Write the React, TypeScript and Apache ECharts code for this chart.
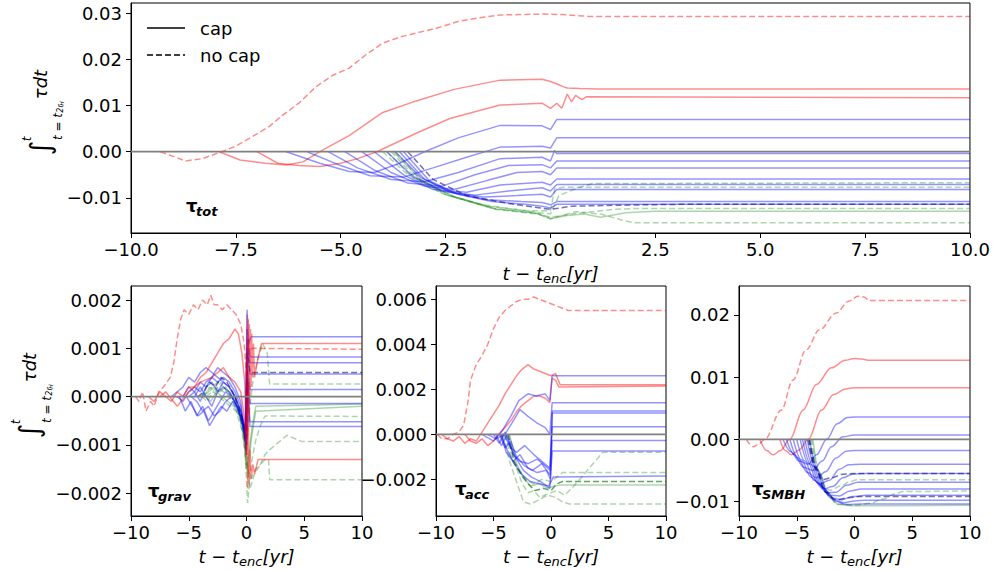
import React, { useEffect, useRef } from "react";
import * as echarts from "echarts";

type Line = number[][];

// ---------- tick values ----------
const topYTicks = [-0.01, 0, 0.01, 0.02, 0.03];
const gravYTicks = [-0.002, -0.001, 0, 0.001, 0.002];
const accYTicks = [-0.002, 0, 0.002, 0.004, 0.006];
const smbhYTicks = [-0.01, 0, 0.01, 0.02];
const zeroLine: Line = [[-10, 0], [10, 0]];
const legendLabels = ["cap", "no cap"];

// ---------- top panel: tau_tot ----------
const totRedNoCap: Line[] = [
  [[-9.3, 0], [-8.7, -0.002], [-8.3, -0.0015], [-7.9, -0.0002], [-7.5, 0.0012], [-7.1, 0.0033], [-6.7, 0.0055], [-6.4, 0.0078], [-6.0, 0.0105], [-5.6, 0.014], [-5.2, 0.0165], [-4.8, 0.0181], [-4.4, 0.021], [-4.0, 0.0235], [-3.6, 0.0248], [-3.2, 0.0257], [-2.7, 0.0268], [-2.2, 0.0282], [-1.7, 0.029], [-1.2, 0.0296], [-0.7, 0.0297], [-0.2, 0.0298], [0.3, 0.0297], [0.9, 0.0293], [10, 0.0293]],
];
const totRedCap: Line[] = [
  [[-7.9, 0], [-7.4, -0.0018], [-6.8, -0.0025], [-6.3, -0.0029], [-5.9, -0.0022], [-5.5, 0], [-4.8, 0.0035], [-4.0, 0.0085], [-3.2, 0.011], [-2.3, 0.0135], [-1.2, 0.0155], [-0.2, 0.0157], [0, 0.0152], [0.2, 0.0145], [0.3, 0.0141], [0.4, 0.0138], [0.7, 0.0137], [1.1, 0.0136], [10, 0.0136]],
  [[-7.0, 0], [-6.5, -0.0025], [-6.0, -0.003], [-5.5, -0.0032], [-5.0, -0.0025], [-4.6, -0.0015], [-4.14, 0], [-3.2, 0.004], [-2.4, 0.0072], [-1.2, 0.0101], [-0.2, 0.0105], [0, 0.0094], [0.15, 0.0105], [0.27, 0.0094], [0.4, 0.0125], [0.5, 0.0108], [0.6, 0.0122], [0.75, 0.0113], [0.85, 0.0119], [10, 0.0117]],
];
const totBlueCap: Line[] = [
  [[-6.3, 0], [-5.5, -0.0025], [-4.8, -0.0043], [-4.2, -0.0045], [-3.6, -0.0025], [-3.0, 0], [-2.2, 0.003], [-1.2, 0.0057], [-0.2, 0.0056], [0, 0.0048], [0.15, 0.007], [10, 0.007]],
  [[-5.8, 0], [-5.0, -0.003], [-4.3, -0.0052], [-3.5, -0.0055], [-2.8, -0.0035], [-2.0, -0.0012], [-1.2, 0.001], [-0.2, 0.0012], [0, 0.0008], [0.15, 0.003], [10, 0.003]],
  [[-5.3, 0], [-4.6, -0.0035], [-3.8, -0.006], [-3.0, -0.0065], [-2.2, -0.0045], [-1.2, -0.0015], [-0.2, -0.0012], [0, -0.002], [0.1, 0.0003], [0.15, -0.0004], [10, -0.0004]],
  [[-4.9, 0], [-4.2, -0.004], [-3.4, -0.0068], [-2.6, -0.0075], [-1.8, -0.005], [-1.0, -0.003], [-0.2, -0.0028], [0, -0.0035], [0.15, -0.002], [10, -0.002]],
  [[-4.5, 0], [-3.8, -0.0045], [-3.0, -0.0075], [-2.3, -0.0082], [-1.5, -0.0062], [-0.8, -0.0045], [-0.2, -0.0043], [0, -0.005], [0.15, -0.0035], [10, -0.0035]],
  [[-4.2, 0], [-3.5, -0.005], [-2.8, -0.0082], [-2.0, -0.0088], [-1.2, -0.0072], [-0.2, -0.0066], [0, -0.0072], [0.15, -0.0059], [10, -0.0059]],
  [[-3.9, 0], [-3.3, -0.0052], [-2.6, -0.0085], [-1.8, -0.0094], [-1.0, -0.0085], [-0.2, -0.0078], [0, -0.0085], [0.15, -0.0071], [10, -0.0071]],
  [[-3.7, 0], [-3.1, -0.0055], [-2.4, -0.0088], [-1.6, -0.0098], [-0.8, -0.0095], [-0.2, -0.0092], [0, -0.0098], [0.15, -0.0082], [10, -0.0082]],
  [[-3.6, 0], [-3.0, -0.006], [-2.3, -0.009], [-1.5, -0.0104], [-0.7, -0.0108], [-0.2, -0.011], [0, -0.0115], [0.15, -0.0108], [10, -0.0108]],
  [[-3.5, 0], [-2.9, -0.0062], [-2.2, -0.0092], [-1.4, -0.0108], [-0.6, -0.0114], [-0.2, -0.0118], [0, -0.0122], [0.15, -0.0114], [10, -0.0114]],
];
const totBlueNoCap: Line[] = [
  [[-3.4, 0], [-2.8, -0.006], [-2.0, -0.0095], [-1.0, -0.0112], [0, -0.0125], [0.5, -0.0118], [1.5, -0.0116], [3, -0.0114], [10, -0.0114]],
];
const totGreenNoCap: Line[] = [
  [[-4.0, 0], [-3.4, -0.005], [-2.6, -0.009], [-1.6, -0.0115], [-0.6, -0.0128], [0, -0.0135], [0.2, -0.0095], [0.6, -0.008], [1.0, -0.0069], [10, -0.0067]],
  [[-3.9, 0], [-3.3, -0.0055], [-2.5, -0.0093], [-1.5, -0.0118], [-0.5, -0.0128], [0, -0.0128], [0.1, -0.008], [0.3, -0.0077], [10, -0.0077]],
  [[-3.8, 0], [-3.2, -0.0058], [-2.4, -0.0096], [-1.4, -0.0122], [-0.4, -0.0132], [0, -0.0142], [0.5, -0.0135], [1.0, -0.013], [1.5, -0.0125], [2.0, -0.0123], [10, -0.0123]],
  [[-3.7, 0], [-3.1, -0.006], [-2.3, -0.0098], [-1.3, -0.0125], [-0.3, -0.0135], [0, -0.0145], [0.6, -0.013], [1.2, -0.0135], [1.7, -0.0148], [2.0, -0.0154], [10, -0.0154]],
];
const totGreenCap: Line[] = [
  [[-3.75, 0], [-3.1, -0.006], [-2.3, -0.0097], [-1.3, -0.0124], [-0.3, -0.0134], [0, -0.0145], [0.4, -0.0138], [0.8, -0.0135], [1.2, -0.0142], [1.8, -0.0132], [2.5, -0.0129], [10, -0.0129]],
];

// ---------- bottom left: tau_grav ----------
const gravRedNoCap: Line[] = [
  [[-9.6, 0], [-9.3, -0.0001], [-9.0, 0.0001], [-8.7, -0.0003], [-8.3, -0.0001], [-8.0, -0.0002], [-7.6, 0.0001], [-7.2, 0.0002], [-6.9, 0.0003], [-6.6, 0.0004], [-6.3, 0.0007], [-6.0, 0.0012], [-5.7, 0.0016], [-5.4, 0.0018], [-5.0, 0.0017], [-4.6, 0.0019], [-4.2, 0.0018], [-3.8, 0.002], [-3.4, 0.0019], [-3.1, 0.0021], [-2.8, 0.0019], [-2.5, 0.0019], [-2.1, 0.0018], [-1.7, 0.0019], [-1.3, 0.0018], [-0.9, 0.0017], [-0.5, 0.0015], [-0.2, 0.0011], [0, 0.0004], [0.15, 0.0012], [0.3, 0.0009], [0.5, 0.001], [10, 0.00098]],
];
const gravRedCap: Line[] = [
  [[-8.5, 0], [-8.0, -0.0001], [-7.5, 0.0001], [-7.0, 0], [-6.5, -0.0001], [-6.0, 0.0001], [-5.5, 0], [-5.0, 0.0002], [-4.5, 0.0002], [-4.0, 0.0004], [-3.5, 0.0005], [-3.0, 0.0007], [-2.5, 0.0009], [-2.0, 0.0011], [-1.5, 0.0012], [-1.0, 0.0014], [-0.7, 0.0013], [-0.4, 0.0009], [-0.15, 0.0003], [0, -0.0012], [0.05, 0.0017], [0.1, -0.0008], [0.15, 0.0016], [0.2, -0.0004], [0.25, 0.0015], [0.3, 0], [0.35, 0.0014], [0.4, 0.0002], [0.45, 0.0013], [0.5, 0.0004], [0.6, 0.0011], [0.7, 0.0004], [1.0, 0.0008], [1.3, 0.0011], [10, 0.0011]],
  [[-7.5, 0], [-7.0, 0.0001], [-6.0, -0.0002], [-5.0, 0.0001], [-4.0, 0.0003], [-3.0, 0.0004], [-2.0, 0.0006], [-1.5, 0.0004], [-1.0, 0.0003], [-0.5, 0.0001], [-0.2, -0.0004], [0, -0.0012], [0.05, 0.0006], [0.1, -0.0019], [0.15, 0.0003], [0.2, -0.0018], [0.3, -0.0011], [0.4, -0.0017], [0.55, -0.0014], [0.7, -0.0016], [1.0, -0.0013], [10, -0.0013]],
];
const gravBlueCap: Line[] = [
  [[-6.5, 0], [-6.0, 0.0001], [-5.5, 0.0002], [-5.0, 0.0004], [-4.5, 0.0003], [-4.0, 0.0005], [-3.5, 0.0006], [-3.0, 0.0005], [-2.5, 0.0004], [-2.0, 0.0003], [-1.5, 0.0002], [-1.0, 0], [-0.5, -0.0003], [-0.1, -0.0007], [0.05, 0.0018], [0.2, 0.0011], [0.4, 0.00124], [10, 0.00124]],
  [[-6.0, 0], [-5.5, -0.0001], [-5.0, 0.0001], [-4.5, 0.0002], [-4.0, 0.0001], [-3.5, 0.0003], [-3.0, 0.0004], [-2.5, 0.0003], [-2.0, 0.0004], [-1.5, 0.0003], [-1.0, 0.0001], [-0.5, -0.0002], [-0.1, -0.0009], [0.05, 0.0014], [0.2, 0.0009], [0.4, 0.00082], [10, 0.00082]],
  [[-5.8, 0], [-5.3, -0.0003], [-4.8, -0.0001], [-4.3, -0.0004], [-3.8, -0.0002], [-3.3, -0.0005], [-2.8, -0.0003], [-2.3, -0.0001], [-1.8, 0.0001], [-1.3, 0], [-0.8, -0.0002], [-0.3, -0.0006], [0, -0.0011], [0.1, 0.0012], [0.3, 0.0007], [10, 0.0007]],
  [[-5.5, 0], [-5.0, 0.0002], [-4.5, 0.0001], [-4.0, 0.0003], [-3.5, 0.0002], [-3.0, 0.0004], [-2.5, 0.0006], [-2.0, 0.0005], [-1.5, 0.0004], [-1.0, 0.0002], [-0.5, -0.0001], [-0.1, -0.0008], [0.05, 0.001], [0.3, 0.00047], [10, 0.00047]],
  [[-5.2, 0], [-4.7, -0.0002], [-4.2, -0.0004], [-3.7, -0.0003], [-3.2, -0.0006], [-2.7, -0.0004], [-2.2, -0.0002], [-1.7, -0.0003], [-1.2, -0.0001], [-0.7, -0.0003], [-0.2, -0.0007], [0, -0.0012], [0.1, 0.0006], [0.3, 0.00015], [10, 0.00015]],
  [[-5.0, 0], [-4.5, 0.0001], [-4.0, -0.0001], [-3.5, 0.0002], [-3.0, 0.0003], [-2.5, 0.0001], [-2.0, 0.0002], [-1.5, 0.0001], [-1.0, -0.0001], [-0.5, -0.0004], [-0.1, -0.0009], [0.05, 0.0005], [0.3, -0.00014], [10, -0.00014]],
  [[-4.8, 0], [-4.3, -0.0001], [-3.8, -0.0003], [-3.3, -0.0002], [-2.8, -0.0004], [-2.3, -0.0003], [-1.8, -0.0001], [-1.3, 0], [-0.8, -0.0002], [-0.3, -0.0005], [0, -0.001], [0.1, 0.0003], [0.3, -0.00052], [10, -0.00052]],
  [[-4.5, 0], [-4.0, 0.0002], [-3.5, 0], [-3.0, -0.0002], [-2.5, 0.0001], [-2.0, 0.0003], [-1.5, 0.0002], [-1.0, 0], [-0.5, -0.0003], [-0.1, -0.0008], [0.05, 0.0002], [0.3, -0.00062], [10, -0.00062]],
];
const gravBlueNoCap: Line[] = [
  [[-4.2, 0], [-3.7, 0.0001], [-3.2, 0.0003], [-2.7, 0.0002], [-2.2, 0.0004], [-1.7, 0.0003], [-1.2, 0.0001], [-0.7, -0.0002], [-0.2, -0.0006], [0, -0.001], [0.1, 0.0009], [0.3, 0.0005], [10, 0.0005]],
];
const gravGreenNoCap: Line[] = [
  [[-4.0, 0], [-3.5, 0.0001], [-3.0, 0.0002], [-2.5, 0.0003], [-2.0, 0.0002], [-1.5, 0.0001], [-1.0, 0], [-0.5, -0.0003], [0, -0.0009], [0.3, -0.0002], [0.6, 0.0004], [1.0, 0.0008], [1.4, 0.0011], [1.8, 0.0009], [2.0, 0.00026], [10, 0.00026]],
  [[-3.7, 0], [-3.2, 0.0002], [-2.7, 0.0001], [-2.2, 0.0003], [-1.7, 0.0001], [-1.2, 0], [-0.7, -0.0003], [-0.2, -0.0008], [0.1, -0.0022], [0.4, -0.0014], [0.8, -0.0009], [1.2, -0.0006], [1.6, -0.0004], [10, -0.00041]],
  [[-3.9, 0], [-3.4, -0.0001], [-2.9, 0.0001], [-2.4, 0], [-1.9, -0.0001], [-1.4, -0.0002], [-0.9, -0.0003], [-0.4, -0.0007], [0, -0.0014], [0.4, -0.0017], [0.8, -0.0015], [1.2, -0.0014], [1.6, -0.0012], [2.0, -0.0011], [2.5, -0.001], [3.0, -0.0009], [3.5, -0.0008], [4.0, -0.00085], [4.5, -0.0009], [4.8, -0.00093], [10, -0.00093]],
  [[-3.5, 0], [-3.0, 0.0001], [-2.5, 0.0002], [-2.0, 0.0001], [-1.5, 0], [-1.0, -0.0002], [-0.5, -0.0005], [0, -0.0012], [0.3, -0.0019], [0.7, -0.0016], [1.2, -0.0014], [1.6, -0.0013], [1.9, -0.0013], [2.0, -0.00172], [10, -0.00172]],
];
const gravGreenCap: Line[] = [
  [[-3.8, 0], [-3.3, 0.0001], [-2.8, 0.0002], [-2.3, 0.0001], [-1.8, 0.0002], [-1.3, 0], [-0.8, -0.0002], [-0.3, -0.0006], [0, -0.0015], [0.2, -0.0012], [0.5, -0.0006], [0.8, -0.0002], [10, -0.00015]],
  [[-3.6, 0], [-3.1, -0.0001], [-2.6, 0.0001], [-2.1, 0], [-1.6, -0.0001], [-1.1, -0.0002], [-0.6, -0.0004], [-0.1, -0.001], [0.1, -0.0017], [0.4, -0.0009], [0.8, -0.0003], [10, -0.0002]],
];

// ---------- bottom middle: tau_acc ----------
const accRedNoCap: Line[] = [
  [[-9.9, 0], [-9.5, -0.0002], [-9.0, -0.0002], [-8.5, 0], [-8.0, 0.0001], [-7.6, 0.0004], [-7.2, 0.0015], [-7.0, 0.0024], [-6.5, 0.0031], [-6.0, 0.0035], [-5.5, 0.004], [-5.0, 0.0047], [-4.5, 0.0052], [-4.0, 0.0055], [-3.5, 0.0057], [-3.0, 0.0059], [-2.5, 0.006], [-2.0, 0.006], [-1.5, 0.0061], [-1.0, 0.006], [-0.5, 0.0059], [0, 0.0058], [0.5, 0.0057], [1.0, 0.0056], [1.5, 0.0055], [10, 0.0055]],
];
const accRedCap: Line[] = [
  [[-9.5, 0], [-9.0, -0.0002], [-8.5, -0.0003], [-8.0, -0.0001], [-7.5, -0.0004], [-7.0, -0.0002], [-6.5, -0.0003], [-6.0, 0.0001], [-5.5, 0.0005], [-5.0, 0.0009], [-4.5, 0.0013], [-4.0, 0.0018], [-3.5, 0.0022], [-3.0, 0.0026], [-2.5, 0.0029], [-2.0, 0.0031], [-1.5, 0.0029], [-1.0, 0.0028], [-0.5, 0.0027], [0, 0.0026], [0.4, 0.0027], [0.8, 0.0022], [1.2, 0.0022], [10, 0.0022]],
  [[-7.5, 0], [-7.0, -0.0003], [-6.5, -0.0004], [-6.0, -0.0002], [-5.5, -0.0005], [-5.0, -0.0003], [-4.5, 0], [-4.0, 0.0003], [-3.5, 0.0006], [-3.0, 0.001], [-2.5, 0.0013], [-2.0, 0.0015], [-1.5, 0.0017], [-1.0, 0.0017], [-0.5, 0.0016], [-0.1, 0.0014], [0.1, 0.0025], [0.4, 0.0024], [0.7, 0.0021], [10, 0.00215]],
];
const accBlueCap: Line[] = [
  [[-6.0, 0], [-5.0, -0.0003], [-4.2, 0.0002], [-3.5, 0.0008], [-2.8, 0.0015], [-2.0, 0.0018], [-1.3, 0.0017], [-0.5, 0.0018], [-0.1, 0.0015], [0.1, 0.0026], [10, 0.0026]],
  [[-5.5, 0], [-4.8, -0.0002], [-4.0, 0], [-3.4, 0.0005], [-2.7, 0.0011], [-2.0, 0.0008], [-1.2, 0.0005], [-0.5, 0.0003], [-0.1, 0], [0.1, 0.0014], [10, 0.0014]],
  [[-5.0, 0], [-4.5, -0.0004], [-4.0, 0.0001], [-3.5, -0.0006], [-3.0, -0.0008], [-2.3, -0.0005], [-1.5, -0.0009], [-0.8, -0.0012], [-0.1, -0.0015], [0.05, 0], [0.12, 0.00104], [10, 0.00104]],
  [[-4.8, 0], [-4.3, -0.0005], [-3.8, 0], [-3.3, -0.0009], [-2.7, -0.0012], [-2.0, -0.0013], [-1.2, -0.0011], [-0.5, -0.0014], [-0.05, -0.0016], [0.1, 0.00095], [10, 0.00095]],
  [[-4.5, 0], [-4.0, -0.0006], [-3.5, -0.0003], [-3.0, -0.001], [-2.3, -0.0014], [-1.6, -0.0016], [-0.8, -0.0013], [-0.1, -0.0018], [0.1, 0.00034], [10, 0.00034]],
  [[-4.3, 0], [-3.9, -0.0008], [-3.3, -0.0012], [-2.7, -0.0009], [-2.0, -0.0015], [-1.2, -0.0017], [-0.4, -0.0016], [-0.05, -0.002], [0.1, -0.00028], [10, -0.00028]],
  [[-4.1, 0], [-3.6, -0.0005], [-3.0, -0.0011], [-2.4, -0.0016], [-1.7, -0.0019], [-0.9, -0.0021], [-0.1, -0.0024], [0.1, -0.00074], [10, -0.00074]],
  [[-4.4, 0], [-3.8, -0.0007], [-3.2, -0.0013], [-2.5, -0.0018], [-1.8, -0.0021], [-1.0, -0.0022], [-0.2, -0.0023], [0.2, -0.0019], [10, -0.00185]],
];
const accGreenNoCap: Line[] = [
  [[-4.0, 0], [-3.5, -0.001], [-3.0, -0.0015], [-2.5, -0.0022], [-2.0, -0.0026], [-1.5, -0.0025], [-1.0, -0.0028], [-0.5, -0.0027], [0, -0.0026], [0.5, -0.0025], [1.2, -0.0027], [1.8, -0.0024], [2.5, -0.002], [3.0, -0.0017], [3.5, -0.0014], [4.0, -0.0011], [4.5, -0.0008], [10, -0.0008]],
  [[-3.8, 0], [-3.3, -0.0012], [-2.8, -0.0016], [-2.2, -0.002], [-1.5, -0.0022], [-0.8, -0.002], [0, -0.0021], [0.5, -0.0019], [1.0, -0.0017], [10, -0.0017]],
  [[-4.2, 0], [-3.6, -0.0012], [-3.0, -0.0021], [-2.4, -0.003], [-1.8, -0.0031], [-1.0, -0.0029], [-0.3, -0.0027], [0.4, -0.0028], [1.0, -0.003], [1.6, -0.0031], [10, -0.0031]],
];
const accGreenDarkNoCap: Line[] = [
  [[-3.7, 0], [-3.2, -0.0012], [-2.6, -0.0018], [-2.0, -0.0022], [-1.4, -0.0025], [-0.7, -0.0024], [0, -0.0025], [0.5, -0.0022], [1.0, -0.0021], [10, -0.0021]],
];
const accGreenCap: Line[] = [
  [[-3.6, 0], [-3.0, -0.0013], [-2.4, -0.0019], [-1.8, -0.0023], [-1.0, -0.0022], [-0.3, -0.0024], [0.3, -0.0023], [0.8, -0.00225], [10, -0.00225]],
];

// ---------- bottom right: tau_SMBH ----------
const smbhRedNoCap: Line[] = [
  [[-9.36, 0], [-8.79, -0.0012], [-8.3, -0.0008], [-7.77, 0], [-6.33, 0.0047], [-5.34, 0.0095], [-4.18, 0.0144], [-3.03, 0.0176], [-1.58, 0.0203], [-0.5, 0.0222], [0.3, 0.023], [0.8, 0.0229], [1.3, 0.0223], [10, 0.0223]],
];
const smbhRedCap: Line[] = [
  [[-8.2, 0], [-7.6, -0.0018], [-7.05, -0.0025], [-6.4, -0.0018], [-5.6, 0], [-4.45, 0.0047], [-3.3, 0.0088], [-2.0, 0.0115], [-0.8, 0.0127], [0, 0.013], [0.6, 0.0129], [1.3, 0.0127], [10, 0.0127]],
  [[-6.47, 0], [-6.0, -0.0018], [-5.46, -0.0025], [-4.8, -0.0017], [-4.0, 0], [-2.86, 0.0047], [-1.8, 0.0072], [-0.8, 0.0081], [0, 0.0083], [10, 0.0083]],
];
const smbhBlueCap: Line[] = [
  [[-6.2, 0], [-5.5, -0.002], [-4.8, -0.0035], [-4.0, -0.004], [-3.3, -0.0025], [-2.4, 0], [-1.5, 0.0025], [-0.6, 0.0035], [0, 0.0036], [10, 0.0036]],
  [[-5.9, 0], [-5.2, -0.0025], [-4.4, -0.0045], [-3.6, -0.005], [-2.8, -0.0035], [-2.0, -0.0012], [-1.0, 0.0004], [0, 0.0007], [10, 0.0007]],
  [[-5.6, 0], [-4.9, -0.003], [-4.1, -0.0053], [-3.3, -0.0062], [-2.5, -0.0052], [-1.6, -0.003], [-0.7, -0.0019], [0, -0.0018], [10, -0.0018]],
  [[-5.3, 0], [-4.6, -0.0033], [-3.8, -0.006], [-3.0, -0.0072], [-2.2, -0.0066], [-1.3, -0.0048], [-0.5, -0.0041], [0.5, -0.004], [10, -0.004]],
  [[-5.0, 0], [-4.3, -0.0035], [-3.5, -0.0066], [-2.7, -0.008], [-1.9, -0.0076], [-1.0, -0.0062], [-0.2, -0.0056], [1, -0.0055], [10, -0.0055]],
  [[-4.7, 0], [-4.0, -0.0038], [-3.2, -0.007], [-2.4, -0.0086], [-1.6, -0.0085], [-0.7, -0.0074], [0.3, -0.0069], [10, -0.0069]],
  [[-4.5, 0], [-3.8, -0.004], [-3.0, -0.0073], [-2.2, -0.009], [-1.3, -0.0091], [-0.4, -0.0083], [0.6, -0.008], [10, -0.008]],
  [[-4.3, 0], [-3.6, -0.0042], [-2.8, -0.0077], [-2.0, -0.0094], [-1.1, -0.0097], [-0.2, -0.0092], [1, -0.009], [10, -0.009]],
  [[-4.1, 0], [-3.4, -0.0045], [-2.6, -0.008], [-1.8, -0.0097], [-0.9, -0.0102], [0, -0.0099], [1, -0.0098], [10, -0.0098]],
  [[-3.9, 0], [-3.2, -0.0048], [-2.4, -0.0084], [-1.6, -0.01], [-0.7, -0.0105], [0.5, -0.0104], [10, -0.0104]],
];
const smbhBlueNoCap: Line[] = [
  [[-4.0, 0], [-3.4, -0.0045], [-2.8, -0.0065], [-2.0, -0.0062], [-1.0, -0.0056], [0, -0.0055], [10, -0.0055]],
  [[-3.9, 0], [-3.3, -0.005], [-2.5, -0.0085], [-1.6, -0.0097], [-0.5, -0.0094], [0.5, -0.0092], [10, -0.0092]],
];
const smbhGreenNoCap: Line[] = [
  [[-3.8, 0], [-3.2, -0.005], [-2.7, -0.0078], [-2.1, -0.0082], [-1.2, -0.0075], [-0.4, -0.0068], [0.2, -0.0065], [10, -0.0065]],
  [[-3.7, 0], [-3.1, -0.0052], [-2.3, -0.009], [-1.5, -0.0104], [0, -0.0106], [1.3, -0.0103], [2.5, -0.0096], [3.5, -0.0088], [4.2, -0.0084], [10, -0.0083]],
];
const smbhGreenCap: Line[] = [
  [[-3.6, 0], [-3.0, -0.0055], [-2.2, -0.0093], [-1.4, -0.0105], [0, -0.0107], [10, -0.0106]],
];

// ---------- styles ----------
const FONT = "DejaVu Sans";
const RED = "rgba(255,0,0,0.45)";
const BLUE = "rgba(0,0,255,0.42)";
const NAVY = "rgba(0,0,120,0.55)";
const GREEN = "rgba(0,128,0,0.32)";
const DGREEN = "rgba(0,100,0,0.6)";
const GRAY = "#808080";
const DASH = [6, 3];

const minus = (s: string) => s.replace("-", "\u2212");

function mkSeries(lines: Line[], idx: number, color: string, dashed: boolean, smooth = false) {
  return lines.map((d) => ({
    type: "line",
    xAxisIndex: idx,
    yAxisIndex: idx,
    data: d,
    symbol: "none",
    showSymbol: false,
    silent: true,
    clip: true,
    smooth: smooth ? 0.35 : false,
    smoothMonotone: smooth ? "x" : undefined,
    lineStyle: { color, width: 1.5, type: dashed ? DASH : "solid" },
    itemStyle: { color },
    z: 2,
  }));
}

function zeroSeries(idx: number) {
  return {
    type: "line",
    xAxisIndex: idx,
    yAxisIndex: idx,
    data: zeroLine,
    symbol: "none",
    silent: true,
    lineStyle: { color: GRAY, width: 1.8 },
    z: 3,
  };
}

const grids = [
  { left: 131, top: 3, width: 839, height: 230 },
  { left: 131, top: 286, width: 231, height: 230 },
  { left: 436, top: 286, width: 230, height: 230 },
  { left: 739, top: 286, width: 231, height: 230 },
];

const xName = "{a|t \u2212 t}{b|enc}{a|[yr]}";
const xNameStyle = {
  rich: {
    a: { fontFamily: FONT, fontStyle: "italic", fontSize: 18, color: "#000", lineHeight: 24 },
    b: { fontFamily: FONT, fontStyle: "italic", fontSize: 13, color: "#000", lineHeight: 13, verticalAlign: "bottom" },
  },
};

function xAxis(idx: number, interval: number, digits: number) {
  return {
    type: "value",
    gridIndex: idx,
    min: -10,
    max: 10,
    interval,
    name: xName,
    nameLocation: "middle",
    nameGap: 28,
    nameTextStyle: xNameStyle,
    axisLine: { show: true, onZero: false, lineStyle: { color: "#000", width: 1 } },
    axisTick: { show: true, length: 5, lineStyle: { color: "#000" } },
    axisLabel: {
      fontFamily: FONT,
      fontSize: 18,
      color: "#000",
      margin: 7,
      formatter: (v: number) => minus(v.toFixed(digits)),
    },
    splitLine: { show: false },
  };
}

function yAxis(idx: number, min: number, max: number, ticks: number[], digits: number) {
  return {
    type: "value",
    gridIndex: idx,
    min,
    max,
    axisLine: { show: true, onZero: false, lineStyle: { color: "#000", width: 1 } },
    axisTick: { show: true, length: 5, lineStyle: { color: "#000" }, customValues: ticks },
    axisLabel: {
      fontFamily: FONT,
      fontSize: 18,
      color: "#000",
      margin: 9,
      customValues: ticks,
      formatter: (v: number) => minus(v.toFixed(digits)),
    },
    splitLine: { show: false },
  };
}

function yTitle(ox: number, oy: number) {
  const t = (text: string, x: number, y: number, font: string) => ({
    type: "text",
    x,
    y,
    silent: true,
    style: { text, font, fill: "#000", align: "center", verticalAlign: "middle" },
  });
  return {
    type: "group",
    x: ox,
    y: oy,
    rotation: Math.PI / 2,
    silent: true,
    children: [
      t("\u222B", 9, 0, `28px "${FONT}"`),
      t("t", 18, -13, `italic 12px "${FONT}"`),
      t("t = t", 30.5, 17.5, `italic 12px "${FONT}"`),
      t("2r", 48.5, 20, `italic 8px "${FONT}"`),
      t("H", 53.5, 21.5, `italic 6px "${FONT}"`),
      t("\u03C4dt", 72.5, 0.5, `italic 18px "${FONT}"`),
    ],
  };
}

function tauLabel(x: number, yBase: number, sub: string) {
  return [
    {
      type: "text",
      x,
      y: yBase,
      silent: true,
      style: { text: "\u03C4", font: `bold 18px "${FONT}"`, fill: "#000", align: "left", verticalAlign: "bottom" },
    },
    {
      type: "text",
      x: x + 10,
      y: yBase + 4,
      silent: true,
      style: { text: sub, font: `italic bold 13px "${FONT}"`, fill: "#000", align: "left", verticalAlign: "bottom" },
    },
  ];
}

function legendItem(y: number, label: string, dashed: boolean) {
  return [
    {
      type: "line",
      silent: true,
      shape: { x1: 147, y1: y, x2: 185, y2: y },
      style: { stroke: "#000", lineWidth: 1.5, lineDash: dashed ? DASH : null },
    },
    {
      type: "text",
      x: 200,
      y,
      silent: true,
      style: { text: label, font: `18px "${FONT}"`, fill: "#000", align: "left", verticalAlign: "middle" },
    },
  ];
}

export default function App() {
  const ref = useRef<HTMLDivElement>(null);
  useEffect(() => {
    document.body.style.margin = "0";
    if (!ref.current) return;
    const chart = echarts.init(ref.current, undefined, { renderer: "svg" });
    const series: any[] = [
      ...mkSeries(totRedNoCap, 0, RED, true),
      ...mkSeries(totRedCap, 0, RED, false),
      ...mkSeries(totGreenNoCap, 0, GREEN, true),
      ...mkSeries(totGreenCap, 0, GREEN, false),
      ...mkSeries(totBlueCap, 0, BLUE, false),
      ...mkSeries(totBlueNoCap, 0, NAVY, true),
      zeroSeries(0),
      ...mkSeries(gravGreenNoCap, 1, GREEN, true),
      ...mkSeries(gravGreenCap, 1, GREEN, false),
      ...mkSeries(gravBlueCap, 1, BLUE, false),
      ...mkSeries(gravBlueNoCap, 1, NAVY, true),
      ...mkSeries(gravRedNoCap, 1, RED, true),
      ...mkSeries(gravRedCap, 1, RED, false),
      zeroSeries(1),
      ...mkSeries(accGreenNoCap, 2, GREEN, true),
      ...mkSeries(accGreenDarkNoCap, 2, DGREEN, true),
      ...mkSeries(accGreenCap, 2, GREEN, false),
      ...mkSeries(accRedNoCap, 2, RED, true),
      ...mkSeries(accRedCap, 2, RED, false),
      ...mkSeries(accBlueCap, 2, BLUE, false),
      zeroSeries(2),
      ...mkSeries(smbhGreenNoCap, 3, GREEN, true, true),
      ...mkSeries(smbhGreenCap, 3, GREEN, false, true),
      ...mkSeries(smbhRedNoCap, 3, RED, true, true),
      ...mkSeries(smbhRedCap, 3, RED, false, true),
      ...mkSeries(smbhBlueCap, 3, BLUE, false, true),
      ...mkSeries(smbhBlueNoCap, 3, NAVY, true, true),
      zeroSeries(3),
    ];
    chart.setOption({
      animation: false,
      backgroundColor: "#fff",
      grid: grids.map((g) => ({ ...g, show: true, borderColor: "#000", borderWidth: 1, containLabel: false })),
      xAxis: [xAxis(0, 2.5, 1), xAxis(1, 5, 0), xAxis(2, 5, 0), xAxis(3, 5, 0)],
      yAxis: [
        yAxis(0, -0.0176, 0.0322, topYTicks, 2),
        yAxis(1, -0.00247, 0.00229, gravYTicks, 3),
        yAxis(2, -0.00363, 0.00659, accYTicks, 3),
        yAxis(3, -0.01233, 0.02465, smbhYTicks, 2),
      ],
      graphic: [
        ...legendItem(28, legendLabels[0], false),
        ...legendItem(55, legendLabels[1], true),
        yTitle(40, 157),
        yTitle(29, 440),
        ...tauLabel(186, 214, "tot"),
        ...tauLabel(148, 499, "grav"),
        ...tauLabel(455, 497, "acc"),
        ...tauLabel(752, 497, "SMBH"),
      ],
      series,
    });
    return () => chart.dispose();
  }, []);
  return <div ref={ref} style={{ width: 993, height: 570 }} />;
}
